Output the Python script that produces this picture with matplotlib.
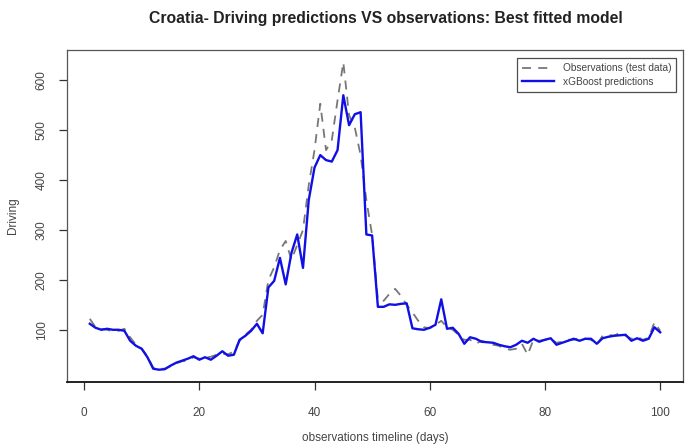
import numpy as np
import matplotlib
matplotlib.use('Agg')
import matplotlib.pyplot as plt

plt.rcParams['font.family'] = ['Liberation Sans', 'DejaVu Sans']

# days 1..100
days = np.arange(1, 101)

# observations (test data)
observations = [122, 105, 102, 100, 97, 98, 102, 85, 70, 62,
                47, 24, 22, 22, 27, 33, 37, 38, 45, 42,
                44, 46, 50, 52, 51, 56, 78, 90, 100, 118,
                130, 200, 225, 260, 278, 240, 270, 300, 390, 460,
                553, 460, 480, 560, 636, 530, 505, 450, 360, 290,
                160, 158, 172, 182, 168, 150, 135, 118, 105, 103,
                110, 118, 105, 100, 90, 80, 80, 72, 78, 74,
                70, 68, 62, 60, 62, 72, 50, 80, 78, 80,
                82, 74, 76, 80, 80, 84, 82, 80, 70, 88,
                90, 88, 94, 88, 82, 86, 80, 84, 115, 98]

# xGBoost predictions
predictions = [112, 104, 100, 102, 100, 100, 98, 78, 68, 62,
               45, 22, 20, 21, 28, 34, 38, 42, 47, 40,
               45, 40, 48, 57, 48, 50, 80, 88, 98, 112,
               93, 185, 198, 244, 191, 254, 291, 224, 360, 425,
               450, 440, 437, 460, 570, 510, 532, 536, 291, 289,
               146, 146, 151, 150, 152, 153, 103, 101, 100, 104,
               110, 161, 102, 104, 92, 72, 85, 82, 76, 75,
               74, 70, 67, 65, 70, 78, 74, 82, 76, 80,
               83, 70, 74, 78, 82, 78, 82, 82, 72, 83,
               86, 88, 89, 90, 78, 83, 78, 82, 105, 95]

xticks = [0, 20, 40, 60, 80, 100]
yticks = [100, 200, 300, 400, 500, 600]

fig = plt.figure(figsize=(6.86, 4.44), dpi=100)
ax = fig.add_axes([67/686, 1-382/444, 616/686, 332/444])

ax.plot(days, observations, color='#777777', linestyle=(0, (5, 4)), linewidth=1.3,
        label='Observations (test data)')
ax.plot(days, predictions, color='#1010e6', linewidth=1.7,
        label='xGBoost predictions')

# R style 4% range extension
def rlim(lo, hi):
    d = (hi - lo) * 0.04
    return lo - d, hi + d

ax.set_xlim(*rlim(days.min(), days.max()))
allv = observations + predictions
ax.set_ylim(*rlim(min(allv), max(allv)))

ax.set_xticks(xticks)
ax.set_yticks(yticks)
ax.set_yticklabels([str(v) for v in yticks], rotation=90, va='center')
ax.tick_params(axis='both', direction='out', length=6, width=0.9, colors='#333333',
               labelsize=8.5, labelcolor='#444444')
ax.tick_params(axis='x', pad=12)
ax.tick_params(axis='y', pad=8)

for s in ax.spines.values():
    s.set_color('#555555')
    s.set_linewidth(0.9)
ax.spines['bottom'].set_color('#111111')
ax.spines['bottom'].set_linewidth(1.3)

ax.set_xlabel('observations timeline (days)', fontsize=8.5, color='#444444', labelpad=9)
ax.set_ylabel('Driving', fontsize=8.5, color='#444444', labelpad=12)

fig.text(386/686, 1-18/444, 'Croatia- Driving predictions VS observations: Best fitted model',
         ha='center', va='center', fontsize=11.3, fontweight='bold', color='#222222')

leg = ax.legend(loc='upper right', fontsize=7.3, frameon=True, fancybox=False,
                edgecolor='#222222', handlelength=3.2, borderpad=0.5,
                labelspacing=0.35, bbox_to_anchor=(0.997, 0.99))
leg.get_frame().set_linewidth(0.9)
for t in leg.get_texts():
    t.set_color('#444444')

fig.savefig('out.png', dpi=100)
